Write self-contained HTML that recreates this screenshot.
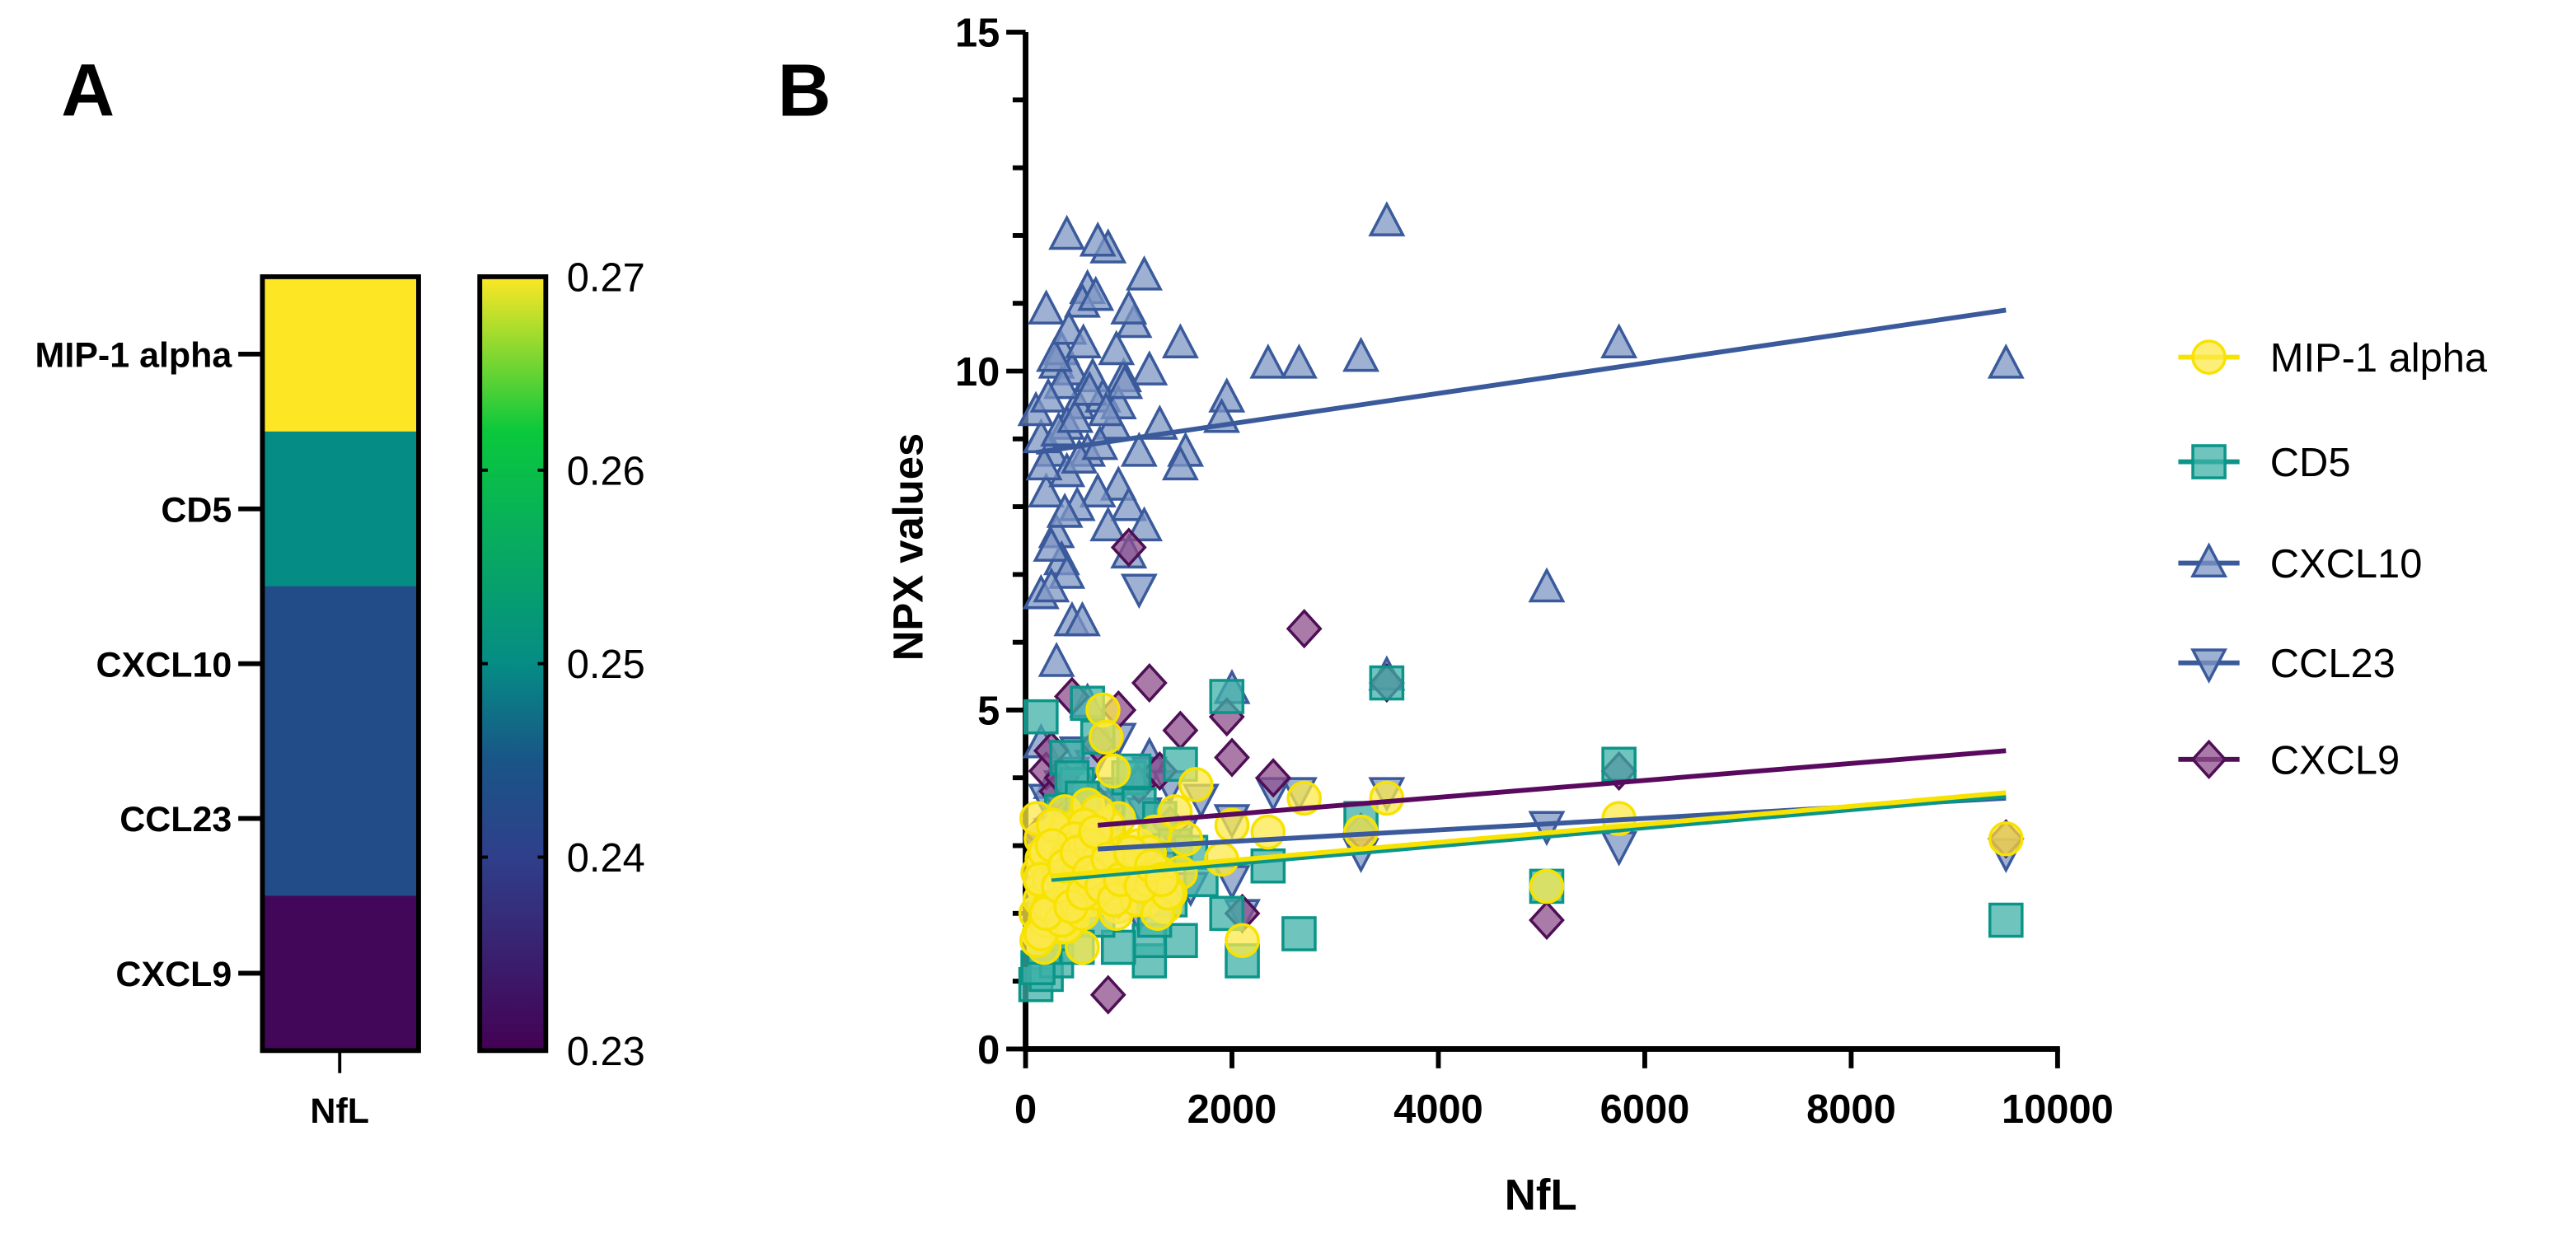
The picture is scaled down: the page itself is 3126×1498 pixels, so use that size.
<!DOCTYPE html>
<html><head><meta charset="utf-8">
<style>
html,body{margin:0;padding:0;background:#fff;}
svg{display:block;}
text{font-family:"Liberation Sans",Arial,sans-serif;}
</style></head>
<body>
<svg id="fig" width="3126" height="1498" viewBox="0 0 1600 767" preserveAspectRatio="none" xmlns="http://www.w3.org/2000/svg">
<text x="38" y="72" font-size="46" font-weight="bold">A</text>
<text x="483" y="72" font-size="46" font-weight="bold">B</text>
<g id="heat"></g>
<g id="cbar"></g>
<g id="scatter"></g>
<g id="legend"></g>
</svg>
<script>
// ---------- Panel A data ----------
const heatRows = ["MIP-1 alpha","CD5","CXCL10","CCL23","CXCL9"];
const heatValues = [0.270,0.250,0.243,0.243,0.231];
const cbarTicks = [0.23,0.24,0.25,0.26,0.27];
const cbarTickLabels = ["0.23","0.24","0.25","0.26","0.27"];

// ---------- Panel B data ----------
const xTicks = [0,2000,4000,6000,8000,10000];
const yTicks = [0,5,10,15];
const seriesNames = ["MIP-1 alpha","CD5","CXCL10","CCL23","CXCL9"];

const cxcl10X = [3500,2350,2650,3250,5750,9500,5050,2000,1950,1900,1500,1550,1500,1200,1150,1050,1000,950,800,700,400,600,550,200,300,350,450,500,650,750,850,900,1000,800,700,600,400,250,150,200,300,350,250,400,150,250,450,550,300,1000,1150,900,1300,1100,400,500,350,150,250,600,1200,3500,100,180,220,280,320,380,420,480,520,560,620,680,720,780,880,960];
const cxcl10Y = [12.2,10.1,10.1,10.2,10.4,10.1,6.8,5.3,9.6,9.3,10.4,8.8,8.6,10.0,11.4,10.7,10.9,9.9,11.8,11.9,12.0,11.2,11.0,10.9,10.1,10.3,10.0,9.5,9.9,9.6,9.2,8.3,8.0,7.7,8.2,8.8,9.2,8.8,9.0,8.2,7.6,7.2,7.4,7.0,6.7,6.8,6.3,6.3,5.7,7.3,7.7,9.5,9.2,8.8,8.5,8.0,9.8,4.5,3.9,5.1,4.3,5.5,9.4,8.6,9.6,10.2,9.1,7.9,10.6,9.3,8.7,10.4,9.7,11.1,8.9,9.4,10.3,9.8];

const ccl23X = [1100,2000,2000,2400,2650,3250,3500,5050,5750,9500,800,900,1200,1400,1500,1700,500,300,200,600,700,1000,1300,1600,400,1100,2100,150,900,1150,250,350,450,550,650,750];
const ccl23Y = [6.8,3.4,2.5,3.8,3.8,2.9,3.8,3.3,3.0,2.9,3.6,4.6,4.1,3.9,3.2,3.7,4.4,3.4,3.7,3.0,2.6,2.9,2.7,2.4,2.3,2.0,2.0,3.0,3.8,3.5,3.2,3.9,4.1,3.3,4.2,3.1];

const cxcl9X = [1000,2700,1200,450,900,1950,1500,2000,2400,1300,200,250,700,5050,800,5750,3500,9500,300,500,600,1100,1400,150,2100,900,1200,3250,350,650,850];
const cxcl9Y = [7.4,6.2,5.4,5.2,5.0,4.9,4.7,4.3,4.0,4.1,4.1,4.4,4.5,1.9,0.8,4.1,5.4,3.1,3.8,3.5,3.0,3.9,3.3,3.2,2.0,2.2,2.6,3.2,4.0,3.7,2.9];

const cd5X = [3500,5750,9500,5050,3250,2650,2100,2350,1950,1950,1500,1500,1200,1200,900,100,200,300,150,600,700,400,500,800,1000,1100,1300,1450,1600,300,400,600,700,900,1100,1400,1700,200,500,250,800,1200,350,650,120,180,260,330,450,550,950,1050,1250];
const cd5Y = [5.4,4.2,1.9,2.4,3.4,1.7,1.3,2.7,5.2,2.0,4.2,1.6,1.3,1.6,1.5,0.95,1.1,1.3,4.9,5.1,4.6,4.3,3.9,3.7,4.0,3.6,3.4,3.0,2.9,2.8,2.4,2.2,1.9,2.5,2.3,2.2,2.5,2.0,1.5,1.7,3.0,2.8,3.5,3.3,1.2,1.5,2.3,3.1,4.0,3.7,2.8,4.1,1.9];

const mipX = [1650,2000,2350,2700,3500,3250,5750,9500,5050,2100,1900,750,780,850,900,1100,1250,1450,1550,1500,550,100,120,150,180,200,220,250,280,300,320,350,380,400,420,450,480,500,520,560,600,640,680,720,760,800,850,900,950,1000,1050,1150,1200,1300,1350,1400,130,170,210,240,270,310,340,370,410,440,470,620,700,820,880,980,1080,1180,1280,1380,
  110,140,160,190,230,260,290,330,360,390,430,460,490,530,570,610,650,690,110,150,190,230,270,310,350,390,430,470,510,550,590,630,670,710,140,200,260,320,380,440,500,560,620,680,740,800,860,920,1020,1120,1220,1320];
const mipY = [3.9,3.3,3.2,3.7,3.7,3.2,3.4,3.1,2.4,1.6,2.8,5.0,4.6,4.1,3.4,3.0,3.2,3.5,3.1,2.6,1.5,2.0,2.6,3.1,1.5,2.3,2.9,1.8,2.5,3.2,2.1,2.8,3.5,2.2,2.9,1.9,2.6,3.3,2.4,3.0,3.6,2.2,2.8,3.1,2.5,3.3,2.7,2.1,2.9,2.4,2.6,2.2,2.9,2.6,2.1,2.3,1.7,2.4,1.9,3.0,2.2,2.7,1.8,2.5,3.0,2.0,2.7,2.4,3.5,2.3,2.0,2.7,2.2,2.5,2.0,2.3,
  1.6,2.2,2.8,1.9,2.5,3.1,2.0,2.6,3.2,1.8,2.4,3.0,2.1,2.7,3.3,2.3,2.9,2.5,3.4,1.7,2.9,2.1,3.3,2.4,1.9,2.8,2.2,3.1,2.6,2.0,2.7,3.0,2.3,2.8,2.5,2.0,3.0,2.4,2.7,2.1,2.9,2.3,2.6,3.2,2.4,2.8,2.2,2.5,2.9,2.4,2.7,2.5];

// regression lines: [xStart, yStart, xEnd, yEnd]
const lineMIP = [250,2.55,9500,3.78];
const lineCD5 = [250,2.50,9500,3.73];
const lineCXCL10 = [100,8.80,9500,10.90];
const lineCCL23 = [700,2.95,9500,3.70];
const lineCXCL9 = [700,3.30,9500,4.40];

const NS = "http://www.w3.org/2000/svg";
function mk(tag, attrs, parent){ const e=document.createElementNS(NS,tag); for(const k in attrs) e.setAttribute(k,attrs[k]); parent.appendChild(e); return e; }

// ---------- Panel A ----------
const heat = document.getElementById('heat');
const hx0=163, hx1=260, hy0=172, hy1=653;
const stops = [[0.23,[68,1,84]],[0.24,[47,63,138]],[0.245,[25,85,135]],[0.25,[5,140,133]],[0.262,[10,200,60]],[0.27,[253,231,37]]];
function cmap(v){
  if(v<=stops[0][0]) return 'rgb('+stops[0][1]+')';
  for(let i=1;i<stops.length;i++){
    if(v<=stops[i][0]){ const t=(v-stops[i-1][0])/(stops[i][0]-stops[i-1][0]);
      const c=stops[i-1][1].map((a,j)=>Math.round(a+(stops[i][1][j]-a)*t)); return 'rgb('+c+')'; }
  }
  return 'rgb('+stops[stops.length-1][1]+')';
}
const rh=(hy1-hy0)/heatRows.length;
heatRows.forEach((name,i)=>{
  const r=mk('rect',{x:hx0,y:hy0+i*rh,width:hx1-hx0,height:rh+0.5,fill:cmap(heatValues[i])},heat);
  
  
  const cy=hy0+(i+0.5)*rh;
  mk('line',{x1:148,y1:cy,x2:hx0,y2:cy,stroke:'#000','stroke-width':3},heat);
  const t=mk('text',{x:144,y:cy+8,'font-size':22,'font-weight':'bold','text-anchor':'end'},heat);
  t.textContent=name;
  
  
});
mk('rect',{x:hx0,y:hy0,width:hx1-hx0,height:hy1-hy0,fill:'none',stroke:'#000','stroke-width':3},heat);
mk('line',{x1:211,y1:hy1,x2:211,y2:hy1+14,stroke:'#000','stroke-width':2},heat);
const nt=mk('text',{x:211,y:698,'font-size':22,'font-weight':'bold','text-anchor':'middle'},heat);
nt.textContent='NfL';



const cbar=document.getElementById('cbar');
const cx0=298,cx1=339;
const defs=mk('defs',{},cbar);
const grad=mk('linearGradient',{id:'vg',x1:0,y1:1,x2:0,y2:0},defs);
stops.forEach(s=>mk('stop',{offset:(s[0]-0.23)/0.04,'stop-color':'rgb('+s[1]+')'},grad));
mk('rect',{x:cx0,y:hy0,width:cx1-cx0,height:hy1-hy0,fill:'url(#vg)',stroke:'#000','stroke-width':3},cbar);
function cy(v){ return hy1-(v-0.23)/0.04*(hy1-hy0); }
cbarTicks.forEach((v,i)=>{
  mk('line',{x1:cx0,y1:cy(v),x2:cx0+5,y2:cy(v),stroke:'#000','stroke-width':2},cbar);
  mk('line',{x1:cx1-5,y1:cy(v),x2:cx1,y2:cy(v),stroke:'#000','stroke-width':2},cbar);
  const t=mk('text',{x:352,y:cy(v)+9,'font-size':25},cbar);
  t.textContent=cbarTickLabels[i];
  
  
});

// ---------- Panel B ----------
const sc=document.getElementById('scatter');
const X0=637,X1=1278,Y0=652,Y15=20;
function sx(v){ return X0+v/10000*(X1-X0); }
function sy(v){ return Y0-v/15*(Y0-Y15); }

mk('line',{x1:X0,y1:Y15,x2:X0,y2:Y0+1.5,stroke:'#000','stroke-width':3.5},sc);
mk('line',{x1:X0-1.5,y1:Y0,x2:X1+1.5,y2:Y0,stroke:'#000','stroke-width':3.5},sc);
for(let v=0;v<=15;v++){
  const major=v%5===0;
  mk('line',{x1:X0-(major?12:8),y1:sy(v),x2:X0,y2:sy(v),stroke:'#000','stroke-width':3},sc);
}
yTicks.forEach(v=>{
  const t=mk('text',{x:X0-16,y:sy(v)+9,'font-size':25,'font-weight':'bold','text-anchor':'end'},sc);
  t.textContent=String(v);
  
  
});
xTicks.forEach(v=>{
  mk('line',{x1:sx(v),y1:Y0,x2:sx(v),y2:Y0+12,stroke:'#000','stroke-width':3},sc);
  const t=mk('text',{x:sx(v),y:Y0+46,'font-size':25,'font-weight':'bold','text-anchor':'middle'},sc);
  t.textContent=String(v);
  
  
});
const xt=mk('text',{x:957,y:752,'font-size':27,'font-weight':'bold','text-anchor':'middle'},sc);
xt.textContent='NfL';


const yt=mk('text',{x:0,y:0,'font-size':26,'font-weight':'bold','text-anchor':'middle',transform:'translate(573,340) rotate(-90)'},sc);
yt.textContent='NPX values';



const styles = {
  "CXCL10":{fill:'#7f97c4',stroke:'#3a5a9c',shape:'up',op:0.75},
  "CCL23":{fill:'#7f97c4',stroke:'#3a5a9c',shape:'down',op:0.75},
  "CXCL9":{fill:'#8e4e8c',stroke:'#4e0f54',shape:'diamond',op:0.75},
  "CD5":{fill:'#3fb1a8',stroke:'#0b9589',shape:'square',op:0.75},
  "MIP-1 alpha":{fill:'#fbe84a',stroke:'#f7e200',shape:'circle',op:0.75}
};
function marker(parent,shape,x,y,st,s){
  s=s||10;
  let e;
  const common={fill:st.fill,'fill-opacity':st.op,stroke:st.stroke,'stroke-width':1.8};
  if(shape==='circle') e=mk('circle',Object.assign({cx:x,cy:y,r:s},common),parent);
  else if(shape==='square') e=mk('rect',Object.assign({x:x-s,y:y-s,width:2*s,height:2*s},common),parent);
  else if(shape==='up') e=mk('polygon',Object.assign({points:`${x},${y-s*1.1} ${x+s},${y+s*0.8} ${x-s},${y+s*0.8}`},common),parent);
  else if(shape==='down') e=mk('polygon',Object.assign({points:`${x},${y+s*1.1} ${x+s},${y-s*0.8} ${x-s},${y-s*0.8}`},common),parent);
  else e=mk('polygon',Object.assign({points:`${x},${y-s*1.1} ${x+s},${y} ${x},${y+s*1.1} ${x-s},${y}`},common),parent);
  return e;
}
function drawSeries(name,xs,ys){
  const g=mk('g',{},sc);
  
  
  const st=styles[name];
  xs.forEach((xv,i)=>{
    const m=marker(g,st.shape,sx(xv),sy(ys[i]),st);
    
    
  });
}
function drawLine(name,L,color){
  const l=mk('line',{x1:sx(L[0]),y1:sy(L[1]),x2:sx(L[2]),y2:sy(L[3]),stroke:color,'stroke-width':3},sc);
  
  
}
drawSeries("CXCL10",cxcl10X,cxcl10Y);
drawSeries("CCL23",ccl23X,ccl23Y);
drawSeries("CXCL9",cxcl9X,cxcl9Y);
drawSeries("CD5",cd5X,cd5Y);
drawSeries("MIP-1 alpha",mipX,mipY);
drawLine('cxcl10',lineCXCL10,'#3a5a9c');
drawLine('cxcl9',lineCXCL9,'#5a0a5e');
drawLine('ccl23',lineCCL23,'#3a5a9c');
drawLine('cd5',lineCD5,'#0b9589');
drawLine('mip-1-alpha',lineMIP,'#f7e200');

const lg=document.getElementById('legend');
const legY=[222,287,350,412,472];
const legOrder=["MIP-1 alpha","CD5","CXCL10","CCL23","CXCL9"];
legOrder.forEach((name,i)=>{
  const st=styles[name];
  const g=mk('g',{},lg);
  
  
  mk('line',{x1:1353,y1:legY[i],x2:1391,y2:legY[i],stroke:st.stroke,'stroke-width':3},g);
  marker(g,st.shape,1372,legY[i],st,10);
  const t=mk('text',{x:1410,y:legY[i]+9,'font-size':25},g);
  t.textContent=name;
});
</script>
</body></html>
